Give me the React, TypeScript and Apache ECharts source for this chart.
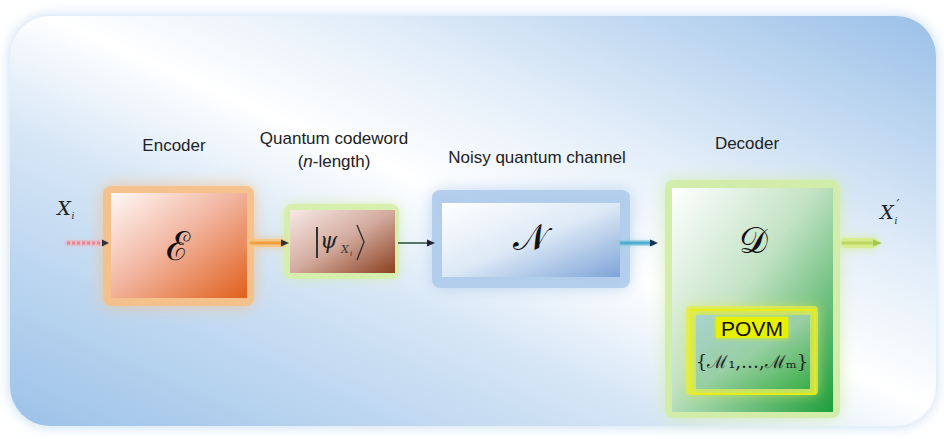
import React, { useEffect, useRef } from 'react';
import * as echarts from 'echarts';

// ---- diagram content ----
const stageLabels = ['Encoder', 'Quantum codeword', 'Noisy quantum channel', 'Decoder'];
const codewordSubLabel = ['(', 'n', '-length)'];
const stageSymbols = ['ℰ', '𝒩', '𝒟'];
const ketParts = ['ψ', 'X', 'i'];
const povmTitle = 'POVM';
const povmSet = '{ℳ₁,…,ℳₘ}';
const inputVar = ['X', 'i'];
const outputVar = ['X', '′', 'i'];

const W = 944;
const H = 439;

function lin(stops: [number, string][], x2 = 1, y2 = 1, x = 0, y = 0) {
  return {
    type: 'linear', x, y, x2, y2,
    colorStops: stops.map(([offset, color]) => ({ offset, color })),
  };
}

function glow(x: number, y: number, w: number, h: number, color: string, blur: number, r = 8): any {
  return {
    type: 'rect', shape: { x, y, width: w, height: h, r },
    style: { fill: color, shadowBlur: blur, shadowColor: color },
  };
}

function arrow(x1: number, x2: number, tip: number, y: number, color: string, width: number, head: string, opts: any = {}): any[] {
  const els: any[] = [];
  if (opts.glow) {
    els.push({
      type: 'rect', shape: { x: x1 - 2, y: y - opts.gw / 2, width: x2 - x1 + 6, height: opts.gw, r: opts.gw / 2 },
      style: { fill: opts.glow, shadowBlur: opts.blur, shadowColor: opts.glow },
    });
  }
  if (opts.dash) {
    els.push({
      type: 'line', shape: { x1, y1: y, x2, y2: y },
      style: { stroke: color, lineWidth: width, lineDash: opts.dash },
    });
  } else {
    els.push({
      type: 'rect', shape: { x: x1, y: y - width / 2, width: x2 - x1, height: width },
      style: { fill: color },
    });
  }
  els.push({
    type: 'polygon',
    shape: { points: [[x2 - 1, y - 3.5], [tip, y], [x2 - 1, y + 3.5]] },
    style: { fill: head },
  });
  return els;
}

function label(text: string, x: number, y: number, extra: any = {}): any {
  return {
    type: 'text', x, y,
    style: {
      text, fill: '#222', font: '17px "Liberation Sans", Arial, sans-serif',
      align: 'center', verticalAlign: 'middle', ...extra,
    },
  };
}

function buildGraphics(): any[] {
  const g: any[] = [];
  // page background
  g.push({ type: 'rect', shape: { x: 0, y: 0, width: W, height: H }, style: { fill: '#ffffff' } });
  g.push({
    type: 'rect', shape: { x: 10, y: 16, width: 926, height: 410, r: 40 },
    style: {
      fill: lin([[0, '#9cc2e8'], [0.36, '#d6e6f6'], [0.52, '#ffffff'], [0.68, '#e3eef9'], [1, '#9ac0e8']], 1, 0, 0, 1),
      shadowBlur: 14, shadowColor: 'rgba(180,208,236,0.8)',
    },
  });

  // ---- Encoder ----
  g.push(glow(103, 186, 151, 120, 'rgba(246,192,135,0.9)', 16));
  g.push({
    type: 'rect', shape: { x: 111, y: 193, width: 136, height: 105 },
    style: { fill: lin([[0, '#fff8f6'], [0.45, '#f2b7a3'], [1, '#e0601c']]) },
  });
  g.push(label(stageLabels[0], 174, 145));
  g.push({
    type: 'text', x: 178, y: 246,
    style: { text: stageSymbols[0], fill: '#111', font: '40px "DejaVu Serif", serif', align: 'center', verticalAlign: 'middle' },
  });

  // ---- Codeword ----
  g.push(glow(284, 204, 115, 75, 'rgba(214,238,170,0.9)', 12));
  g.push({
    type: 'rect', shape: { x: 290, y: 210, width: 105, height: 63 },
    style: { fill: lin([[0, '#f7e9e6'], [0.5, '#d3aa9d'], [1, '#8a4020']]) },
  });
  g.push(label(stageLabels[1], 334, 138));
  g.push({
    type: 'text', x: 334, y: 161,
    style: {
      text: `{a|${codewordSubLabel[0]}}{b|${codewordSubLabel[1]}}{a|${codewordSubLabel[2]}}`,
      align: 'center', verticalAlign: 'middle',
      rich: {
        a: { fill: '#222', font: '17px "Liberation Sans", Arial, sans-serif' },
        b: { fill: '#222', font: 'italic 17px "Liberation Sans", Arial, sans-serif' },
      },
    },
  });
  // ket |psi_{X_i}>
  g.push({ type: 'line', shape: { x1: 317, y1: 227, x2: 317, y2: 258 }, style: { stroke: '#333', lineWidth: 2 } });
  g.push({
    type: 'text', x: 320, y: 240,
    style: { text: ketParts[0], fill: '#222', font: 'italic 22px "DejaVu Serif", serif', align: 'left', verticalAlign: 'middle' },
  });
  g.push({
    type: 'text', x: 341, y: 249,
    style: { text: ketParts[1], fill: '#333', font: 'italic 11px "DejaVu Serif", serif', align: 'left', verticalAlign: 'middle' },
  });
  g.push({
    type: 'text', x: 350, y: 254,
    style: { text: ketParts[2], fill: '#333', font: 'italic 7px "DejaVu Serif", serif', align: 'left', verticalAlign: 'middle' },
  });
  g.push({
    type: 'polyline', shape: { points: [[357, 225], [364, 242], [357, 260]] },
    style: { stroke: '#333', lineWidth: 1.4, fill: null },
  });

  // ---- Channel ----
  g.push(glow(432, 190, 198, 98, 'rgba(176,204,236,0.9)', 16));
  g.push({
    type: 'rect', shape: { x: 442, y: 203, width: 178, height: 74 },
    style: { fill: lin([[0, '#ffffff'], [0.5, '#dde9f6'], [1, '#7ea4d8']]) },
  });
  g.push(label(stageLabels[2], 537, 157));
  g.push({
    type: 'text', x: 530, y: 237,
    style: { text: stageSymbols[1], fill: '#111', font: '36px "DejaVu Serif", serif', align: 'center', verticalAlign: 'middle' },
  });

  // ---- Decoder ----
  g.push(glow(665, 180, 175, 238, 'rgba(210,236,166,0.9)', 16));
  g.push({
    type: 'rect', shape: { x: 672, y: 188, width: 161, height: 224 },
    style: { fill: lin([[0, '#ffffff'], [0.45, '#c2e2c4'], [1, '#1e9e3c']]) },
  });
  g.push(label(stageLabels[3], 747, 143));
  g.push({
    type: 'text', x: 753, y: 240,
    style: { text: stageSymbols[2], fill: '#111', font: '36px "DejaVu Serif", serif', align: 'center', verticalAlign: 'middle' },
  });

  // POVM block
  g.push(glow(686, 306, 132, 89, 'rgba(228,238,70,0.75)', 12, 4));
  g.push({
    type: 'rect', shape: { x: 696, y: 315, width: 114, height: 74 },
    style: {
      fill: lin([[0, '#a9d3cf'], [0.5, '#98cfa4'], [1, '#3cae48']]),
      shadowBlur: 8, shadowColor: 'rgba(170,215,150,0.9)',
    },
  });
  g.push({
    type: 'rect', shape: { x: 691, y: 310, width: 124, height: 84 },
    style: { fill: null, stroke: '#eef000', lineWidth: 1.5 },
  });
  g.push({
    type: 'rect', shape: { x: 716, y: 317, width: 72, height: 21 },
    style: { fill: '#e6f000', shadowBlur: 4, shadowColor: '#e6f000' },
  });
  g.push({
    type: 'text', x: 752, y: 328,
    style: { text: povmTitle, fill: '#111', font: '21px "Liberation Sans", Arial, sans-serif', align: 'center', verticalAlign: 'middle' },
  });
  g.push({
    type: 'text', x: 752, y: 361,
    style: { text: povmSet, fill: '#222', font: '18px "DejaVu Serif", serif', align: 'center', verticalAlign: 'middle' },
  });

  // ---- arrows ----
  g.push(...arrow(67, 103, 109, 243, '#ec8494', 3, '#333', { dash: [3, 2], glow: 'rgba(244,170,180,0.5)', gw: 6, blur: 4 }));
  g.push(...arrow(250, 282, 289, 243, '#eea040', 3, '#333', { glow: 'rgba(246,196,130,0.9)', gw: 8, blur: 8 }));
  g.push(...arrow(398, 428, 435, 243, '#2a4a3a', 1.5, '#223'));
  g.push(...arrow(620, 651, 658, 243, '#4eaccd', 3, '#1a3050', { glow: 'rgba(140,200,225,0.6)', gw: 6, blur: 4 }));
  g.push(...arrow(842, 874, 882, 243, '#bcd860', 3, '#a6c850', { glow: 'rgba(214,236,140,0.95)', gw: 10, blur: 10 }));

  // input / output variables
  g.push({
    type: 'text', x: 64, y: 208,
    style: { text: inputVar[0], fill: '#222', font: 'italic 19px "DejaVu Serif", serif', align: 'center', verticalAlign: 'middle' },
  });
  g.push({
    type: 'text', x: 73, y: 216,
    style: { text: inputVar[1], fill: '#222', font: 'italic 9px "DejaVu Serif", serif', align: 'center', verticalAlign: 'middle' },
  });
  g.push({
    type: 'text', x: 887, y: 212,
    style: { text: outputVar[0], fill: '#222', font: 'italic 19px "DejaVu Serif", serif', align: 'center', verticalAlign: 'middle' },
  });
  g.push({
    type: 'text', x: 898, y: 204,
    style: { text: outputVar[1], fill: '#222', font: 'italic 13px "DejaVu Serif", serif', align: 'center', verticalAlign: 'middle' },
  });
  g.push({
    type: 'text', x: 896, y: 221,
    style: { text: outputVar[2], fill: '#222', font: 'italic 9px "DejaVu Serif", serif', align: 'center', verticalAlign: 'middle' },
  });
  return g;
}

export default function App() {
  const ref = useRef<HTMLDivElement>(null);
  useEffect(() => {
    document.body.style.margin = '0';
    if (!ref.current) return;
    const chart = echarts.init(ref.current, null, { renderer: 'svg' });
    chart.setOption({
      animation: false,
      graphic: { elements: buildGraphics() },
    });
    return () => chart.dispose();
  }, []);
  return <div ref={ref} style={{ width: W, height: H }} />;
}
